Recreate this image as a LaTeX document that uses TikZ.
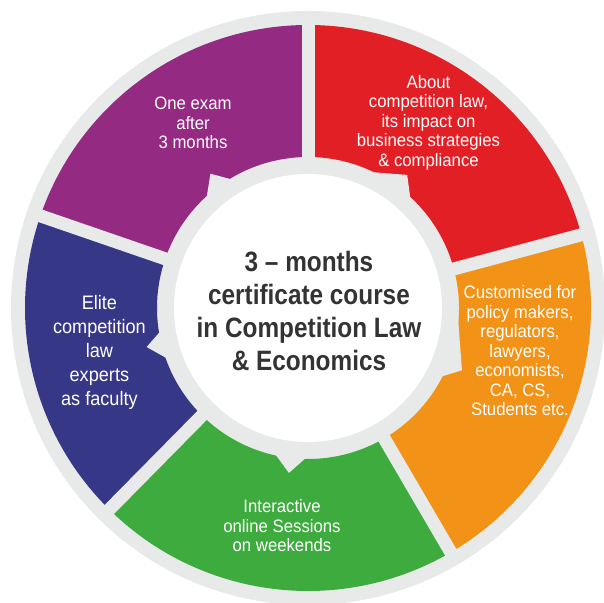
\documentclass[tikz,border=0pt]{standalone}
\usepackage{fontspec}
\setmainfont{Liberation Sans}
\newfontfamily\segfont[FakeStretch=0.93]{Liberation Sans}
\newfontfamily\hubfont[FakeStretch=0.87]{Liberation Sans}

\definecolor{ringgray}{HTML}{E8EAE9}
\definecolor{examviolet}{HTML}{952A82}
\definecolor{lawred}{HTML}{E31F26}
\definecolor{userorange}{HTML}{F29318}
\definecolor{sessiongreen}{HTML}{3EAB3E}
\definecolor{facultyblue}{HTML}{363786}
\definecolor{titlegray}{HTML}{333333}

\begin{document}
\begin{tikzpicture}[x=1pt, y=1pt,
    segtext/.style={text=white, align=center, inner sep=0pt, font=\segfont\fontsize{18}{19.5}\selectfont},
    segsep/.style={draw=ringgray, line width=13pt},
    tail/.style={fill=ringgray}]
        % Canvas
        \useasboundingbox[fill=white] (-308,-294) rectangle (296,308);
        % Outer gray ring
        \fill[ringgray] (0,0) circle (297);
		% Segments
        \fill[examviolet] (90:283) arc[start angle=90, end angle=161, radius=283] -- (161:151) arc[start angle=161, end angle=90, radius=151] -- cycle;
        \fill[lawred] (15:283) arc[start angle=15, end angle=90, radius=283] -- (90:151) arc[start angle=90, end angle=15, radius=151] -- cycle;
        \fill[userorange] (-59.7:283) arc[start angle=-59.7, end angle=15, radius=283] -- (15:151) arc[start angle=15, end angle=-59.7, radius=151] -- cycle;
        \fill[sessiongreen] (-134.6:283) arc[start angle=-134.6, end angle=-59.7, radius=283] -- (-59.7:151) arc[start angle=-59.7, end angle=-134.6, radius=151] -- cycle;
        \fill[facultyblue] (161:283) arc[start angle=161, end angle=225.4, radius=283] -- (225.4:151) arc[start angle=225.4, end angle=161, radius=151] -- cycle;
		% Separators
        \draw[segsep] (90:140) -- (90:290);
        \draw[segsep] (15:140) -- (15:290);
        \draw[segsep] (-59.7:140) -- (-59.7:290);
        \draw[segsep] (-134.6:140) -- (-134.6:290);
        \draw[segsep] (161:140) -- (161:290);
		% Tails of the hub
        \fill[tail] (133:149) -- (126:166) -- (120.5:149) -- cycle;
        \fill[tail] (66:149) -- (53.3:166) -- (46.5:149) -- cycle;
        \fill[tail] (3:149) -- (-22:166) -- (-27.6:149) -- cycle;
        \fill[tail] (-90.4:149) -- (-96.6:166) -- (-103:149) -- cycle;
        \fill[tail] (188.8:149) -- (193.6:166) -- (200:149) -- cycle;
		% Hub
        \fill[white] (0,0) circle (134);
		% Labels
        \node[segtext] (exam) at (-115,185) {One exam\\after\\3 months};
        \node[segtext] (about) at (120.5,185.5) {About\\competition law,\\its impact on\\business strategies\\\& compliance};
        \node[segtext] (audience) at (212,-43) {Customised for\\policy makers,\\regulators,\\lawyers,\\economists,\\CA, CS,\\Students etc.};
        \node[segtext] (sessions) at (-26,-218) {Interactive\\online Sessions\\on weekends};
        \node[segtext, font=\segfont\fontsize{19.5}{24}\selectfont] (faculty) at (-208.6,-44) {Elite\\competition\\law\\experts\\as faculty};
        \node[align=center, text=titlegray, inner sep=0pt, font=\hubfont\bfseries\fontsize{28}{33}\selectfont] (title) at (1,-2.5) {3 – months\\certificate course\\in Competition Law\\\& Economics};
    \end{tikzpicture}
\end{document}
